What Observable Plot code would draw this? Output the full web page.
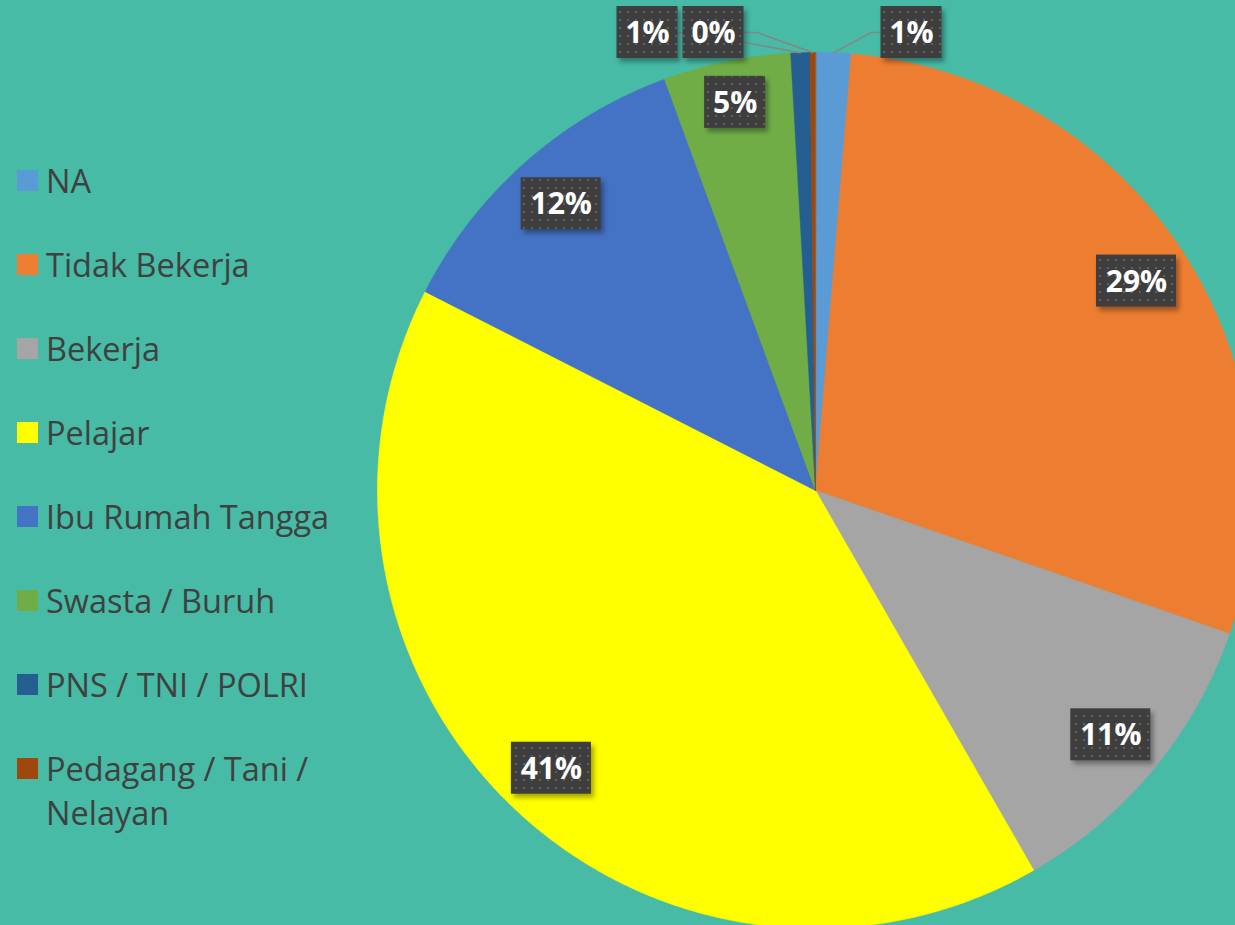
<!DOCTYPE html>
<html><head><meta charset="utf-8">
<script src="https://cdn.jsdelivr.net/npm/d3@7"></script>
<script src="https://cdn.jsdelivr.net/npm/@observablehq/plot@0.6"></script>
<style>
html,body{margin:0;padding:0;background:#47BBA5;width:1235px;height:925px;overflow:hidden;}
#wrap{position:relative;width:1235px;height:925px;}
#chart{position:absolute;left:0;top:0;}
#legend{position:absolute;left:0;top:0;font-family:"Open Sans",sans-serif;font-size:32.5px;color:#404040;}
.item{position:absolute;left:17px;display:flex;align-items:flex-start;line-height:44px;}
.sw{width:21px;height:21px;margin-top:11.5px;margin-right:8px;flex:none;}
.lab{width:300px;}
</style></head>
<body>
<svg width="0" height="0" style="position:absolute">
<defs>
<pattern id="dots" width="8" height="8" patternUnits="userSpaceOnUse"><rect x="3" y="3" width="2" height="2" fill="#606060"/></pattern>
<filter id="shadowblur" x="-20%" y="-20%" width="140%" height="140%"><feGaussianBlur stdDeviation="2.5"/></filter>
</defs>
</svg>
<div id="wrap"><div id="chart"></div><div id="legend"></div></div>
<script>
// ---- data ----
const categories = ["NA", "Tidak Bekerja", "Bekerja", "Pelajar", "Ibu Rumah Tangga", "Swasta / Buruh", "PNS / TNI / POLRI", "Pedagang / Tani / Nelayan"];
const values = [1.3, 29.0, 11.4, 40.8, 11.9, 4.7, 0.7, 0.2];
const colors = ["#5B9BD5", "#ED7D31", "#A5A5A5", "#FFFF00", "#4472C4", "#70AD47", "#255E91", "#9E480E"];

// ---- layout ----
const W = 1235, H = 925;
const K = 438;            // radius in px
const CX = 815, CY = 490; // pie centre in px
const xDomain = [-CX / K, (W - CX) / K];
const yDomain = [-(H - CY) / K, CY / K];
const px = p => p / K;

const rows = categories.map((c, i) => ({cat: c, value: values[i]}));
const total = d3.sum(values);
const arcs = d3.pie().sort(null).value(d => d.value)(rows);

// pie polygons
const piePts = arcs.flatMap(a => {
  const n = Math.max(2, Math.ceil((a.endAngle - a.startAngle) / (Math.PI / 360)));
  const pts = [{cat: a.data.cat, x: 0, y: 0}];
  for (let i = 0; i <= n; i++) {
    const t = a.startAngle + (a.endAngle - a.startAngle) * i / n;
    pts.push({cat: a.data.cat, x: Math.sin(t), y: Math.cos(t)});
  }
  return pts;
});

// labels
const labels = [];
const leaders = [];
const outsideRight = [], outsideLeft = [];
arcs.forEach(a => {
  const mid = (a.startAngle + a.endAngle) / 2;
  const text = Math.round(a.data.value / total * 100) + "%";
  const w = px(23 + 19 * text.length), h = px(52);
  const item = {cat: a.data.cat, mid, label: text, w, h};
  if (a.data.value < 2) {
    (mid < Math.PI ? outsideRight : outsideLeft).push(item);
  } else {
    const r = a.data.value < 8 ? 0.905 : 0.875;
    item.x = r * Math.sin(mid); item.y = r * Math.cos(mid);
    labels.push(item);
  }
});
const outY = 1 + px(20), step = px(66);
outsideRight.sort((p, q) => p.mid - q.mid).forEach((it, i) => {
  it.x = px(96) + i * step; it.y = outY; labels.push(it);
  const ex = it.x - it.w / 2;
  leaders.push({cat: it.cat, x: ex, y: outY}, {cat: it.cat, x: ex - px(10), y: outY}, {cat: it.cat, x: Math.sin(it.mid), y: Math.cos(it.mid)});
});
outsideLeft.sort((p, q) => q.mid - p.mid).forEach((it, i) => {
  it.x = -px(102) - i * step; it.y = outY; labels.push(it);
  const ex = it.x + it.w / 2;
  leaders.push({cat: it.cat, x: ex, y: outY}, {cat: it.cat, x: ex + px(13), y: outY}, {cat: it.cat, x: Math.sin(it.mid), y: Math.cos(it.mid)});
});
const rectOpts = {x1: d => d.x - d.w / 2, x2: d => d.x + d.w / 2, y1: d => d.y - d.h / 2, y2: d => d.y + d.h / 2};

const chart = Plot.plot({
  width: W, height: H, margin: 0,
  x: {domain: xDomain, axis: null},
  y: {domain: yDomain, axis: null},
  color: {domain: categories, range: colors},
  style: {background: "transparent", overflow: "visible"},
  marks: [
    Plot.line(piePts, {x: "x", y: "y", z: "cat", fill: "cat", stroke: "cat", strokeWidth: 0.6, curve: "linear-closed"}),
    Plot.line(leaders, {x: "x", y: "y", z: "cat", stroke: "#868686", strokeWidth: 1.6}),
    Plot.rect(labels, {...rectOpts, fill: "#000", fillOpacity: 0.35, dx: 3, dy: 4}),
    Plot.rect(labels, {...rectOpts, fill: "#3e3e3e"}),
    Plot.rect(labels, {...rectOpts, fill: "url(#dots)"}),
    Plot.text(labels, {x: "x", y: "y", text: "label", fill: "white", fontSize: 30, fontWeight: "bold", fontFamily: "Open Sans", dy: 1})
  ]
});
const rg = chart.querySelectorAll('g[aria-label="rect"]');
if (rg.length) rg[0].setAttribute("filter", "url(#shadowblur)");
document.getElementById("chart").appendChild(chart);

// legend
const legend = document.getElementById("legend");
categories.forEach((c, i) => {
  const it = document.createElement("div");
  it.className = "item";
  it.style.top = (180.5 + 84 * i - 22) + "px";
  const sw = document.createElement("div");
  sw.className = "sw"; sw.style.background = colors[i];
  const lab = document.createElement("div");
  lab.className = "lab"; lab.textContent = c;
  it.appendChild(sw); it.appendChild(lab);
  legend.appendChild(it);
});
</script>
</body></html>
